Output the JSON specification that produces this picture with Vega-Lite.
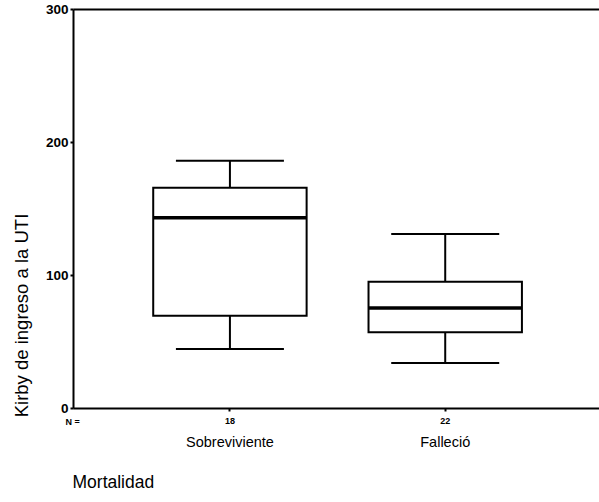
{
  "$schema": "https://vega.github.io/schema/vega-lite/v6.json",
  "autosize": "none",
  "padding": {"left": 73, "top": 9, "right": 0, "bottom": 94},
  "width": 526,
  "height": 399,
  "background": "white",
  "config": {
    "font": "Liberation Sans",
    "view": {"stroke": null},
    "axis": {"grid": false, "domainColor": "black", "domainWidth": 2, "tickColor": "black", "labelColor": "black", "titleColor": "black"}
  },
  "data": {
    "values": [
      {"Mortalidad": "Sobreviviente", "N": "18", "lower": 44.4, "q1": 69.4, "median": 143.1, "q3": 165.6, "upper": 185.9},
      {"Mortalidad": "Falleció", "N": "22", "lower": 33.9, "q1": 56.9, "median": 75.1, "q3": 94.9, "upper": 130.9}
    ]
  },
  "encoding": {
    "x": {
      "field": "Mortalidad", "type": "nominal", "sort": null,
      "scale": {"paddingInner": 0.2875, "paddingOuter": 0.3653, "align": 0.51},
      "axis": null
    }
  },
  "layer": [
    {
      "mark": {"type": "rule", "color": "black", "strokeWidth": 2},
      "encoding": {
        "y": {"field": "lower", "type": "quantitative", "scale": {"domain": [0, 300], "nice": false, "zero": true},
          "axis": {
            "values": [0, 100, 200, 300], "tickSize": 3, "tickWidth": 2, "labelPadding": 2,
            "labelFontSize": 13.5, "labelFontWeight": "bold",
            "title": "Kirby de ingreso a la UTI", "titleFontSize": 18.5, "titleFontWeight": "normal",
            "titleX": -52, "titleY": 306, "titleAlign": "center", "titleBaseline": "middle", "titleAngle": -90
          }
        },
        "y2": {"field": "upper"},
        "x": {"field": "Mortalidad", "type": "nominal", "sort": null,
          "axis": {
            "orient": "bottom",
            "labelAngle": 0, "labelFontSize": 14.5, "labelPadding": 24, "labelBaseline": "top",
            "tickSize": 3, "tickWidth": 2,
            "title": "Mortalidad", "titleFontSize": 17.5, "titleFontWeight": "normal",
            "titleAnchor": "start", "titleAlign": "left", "titleX": -1, "titleY": 74, "titleBaseline": "middle"
          }
        }
      }
    },
    {
      "mark": {"type": "tick", "color": "black", "opacity": 1, "size": 108, "thickness": 2},
      "encoding": {"y": {"field": "lower", "type": "quantitative"}}
    },
    {
      "mark": {"type": "tick", "color": "black", "opacity": 1, "size": 108, "thickness": 2},
      "encoding": {"y": {"field": "upper", "type": "quantitative"}}
    },
    {
      "mark": {"type": "bar", "fill": "white", "stroke": "black", "strokeWidth": 2, "opacity": 1},
      "encoding": {
        "y": {"field": "q1", "type": "quantitative"},
        "y2": {"field": "q3"},
        "x": {"field": "Mortalidad", "type": "nominal", "sort": null,
          "axis": {"orient": "top", "labels": false, "ticks": false, "domain": true, "title": null}
        }
      }
    },
    {
      "mark": {"type": "tick", "color": "black", "opacity": 1, "size": 153.4, "thickness": 3.5},
      "encoding": {"y": {"field": "median", "type": "quantitative"}}
    },
    {
      "mark": {"type": "text", "fontSize": 9, "fontWeight": "bold", "dy": 13, "baseline": "middle", "color": "black"},
      "encoding": {
        "y": {"datum": 0, "type": "quantitative"},
        "text": {"field": "N"},
        "x": {"field": "Mortalidad", "type": "nominal", "sort": null,
          "axis": {
            "orient": "bottom", "labels": false, "ticks": false, "domain": false,
            "title": "N =", "titleFontSize": 9, "titleFontWeight": "bold",
            "titleAnchor": "start", "titleAlign": "left", "titleX": -8, "titleY": 13, "titleBaseline": "middle"
          }
        }
      }
    }
  ],
  "resolve": {"axis": {"x": "independent"}}
}
